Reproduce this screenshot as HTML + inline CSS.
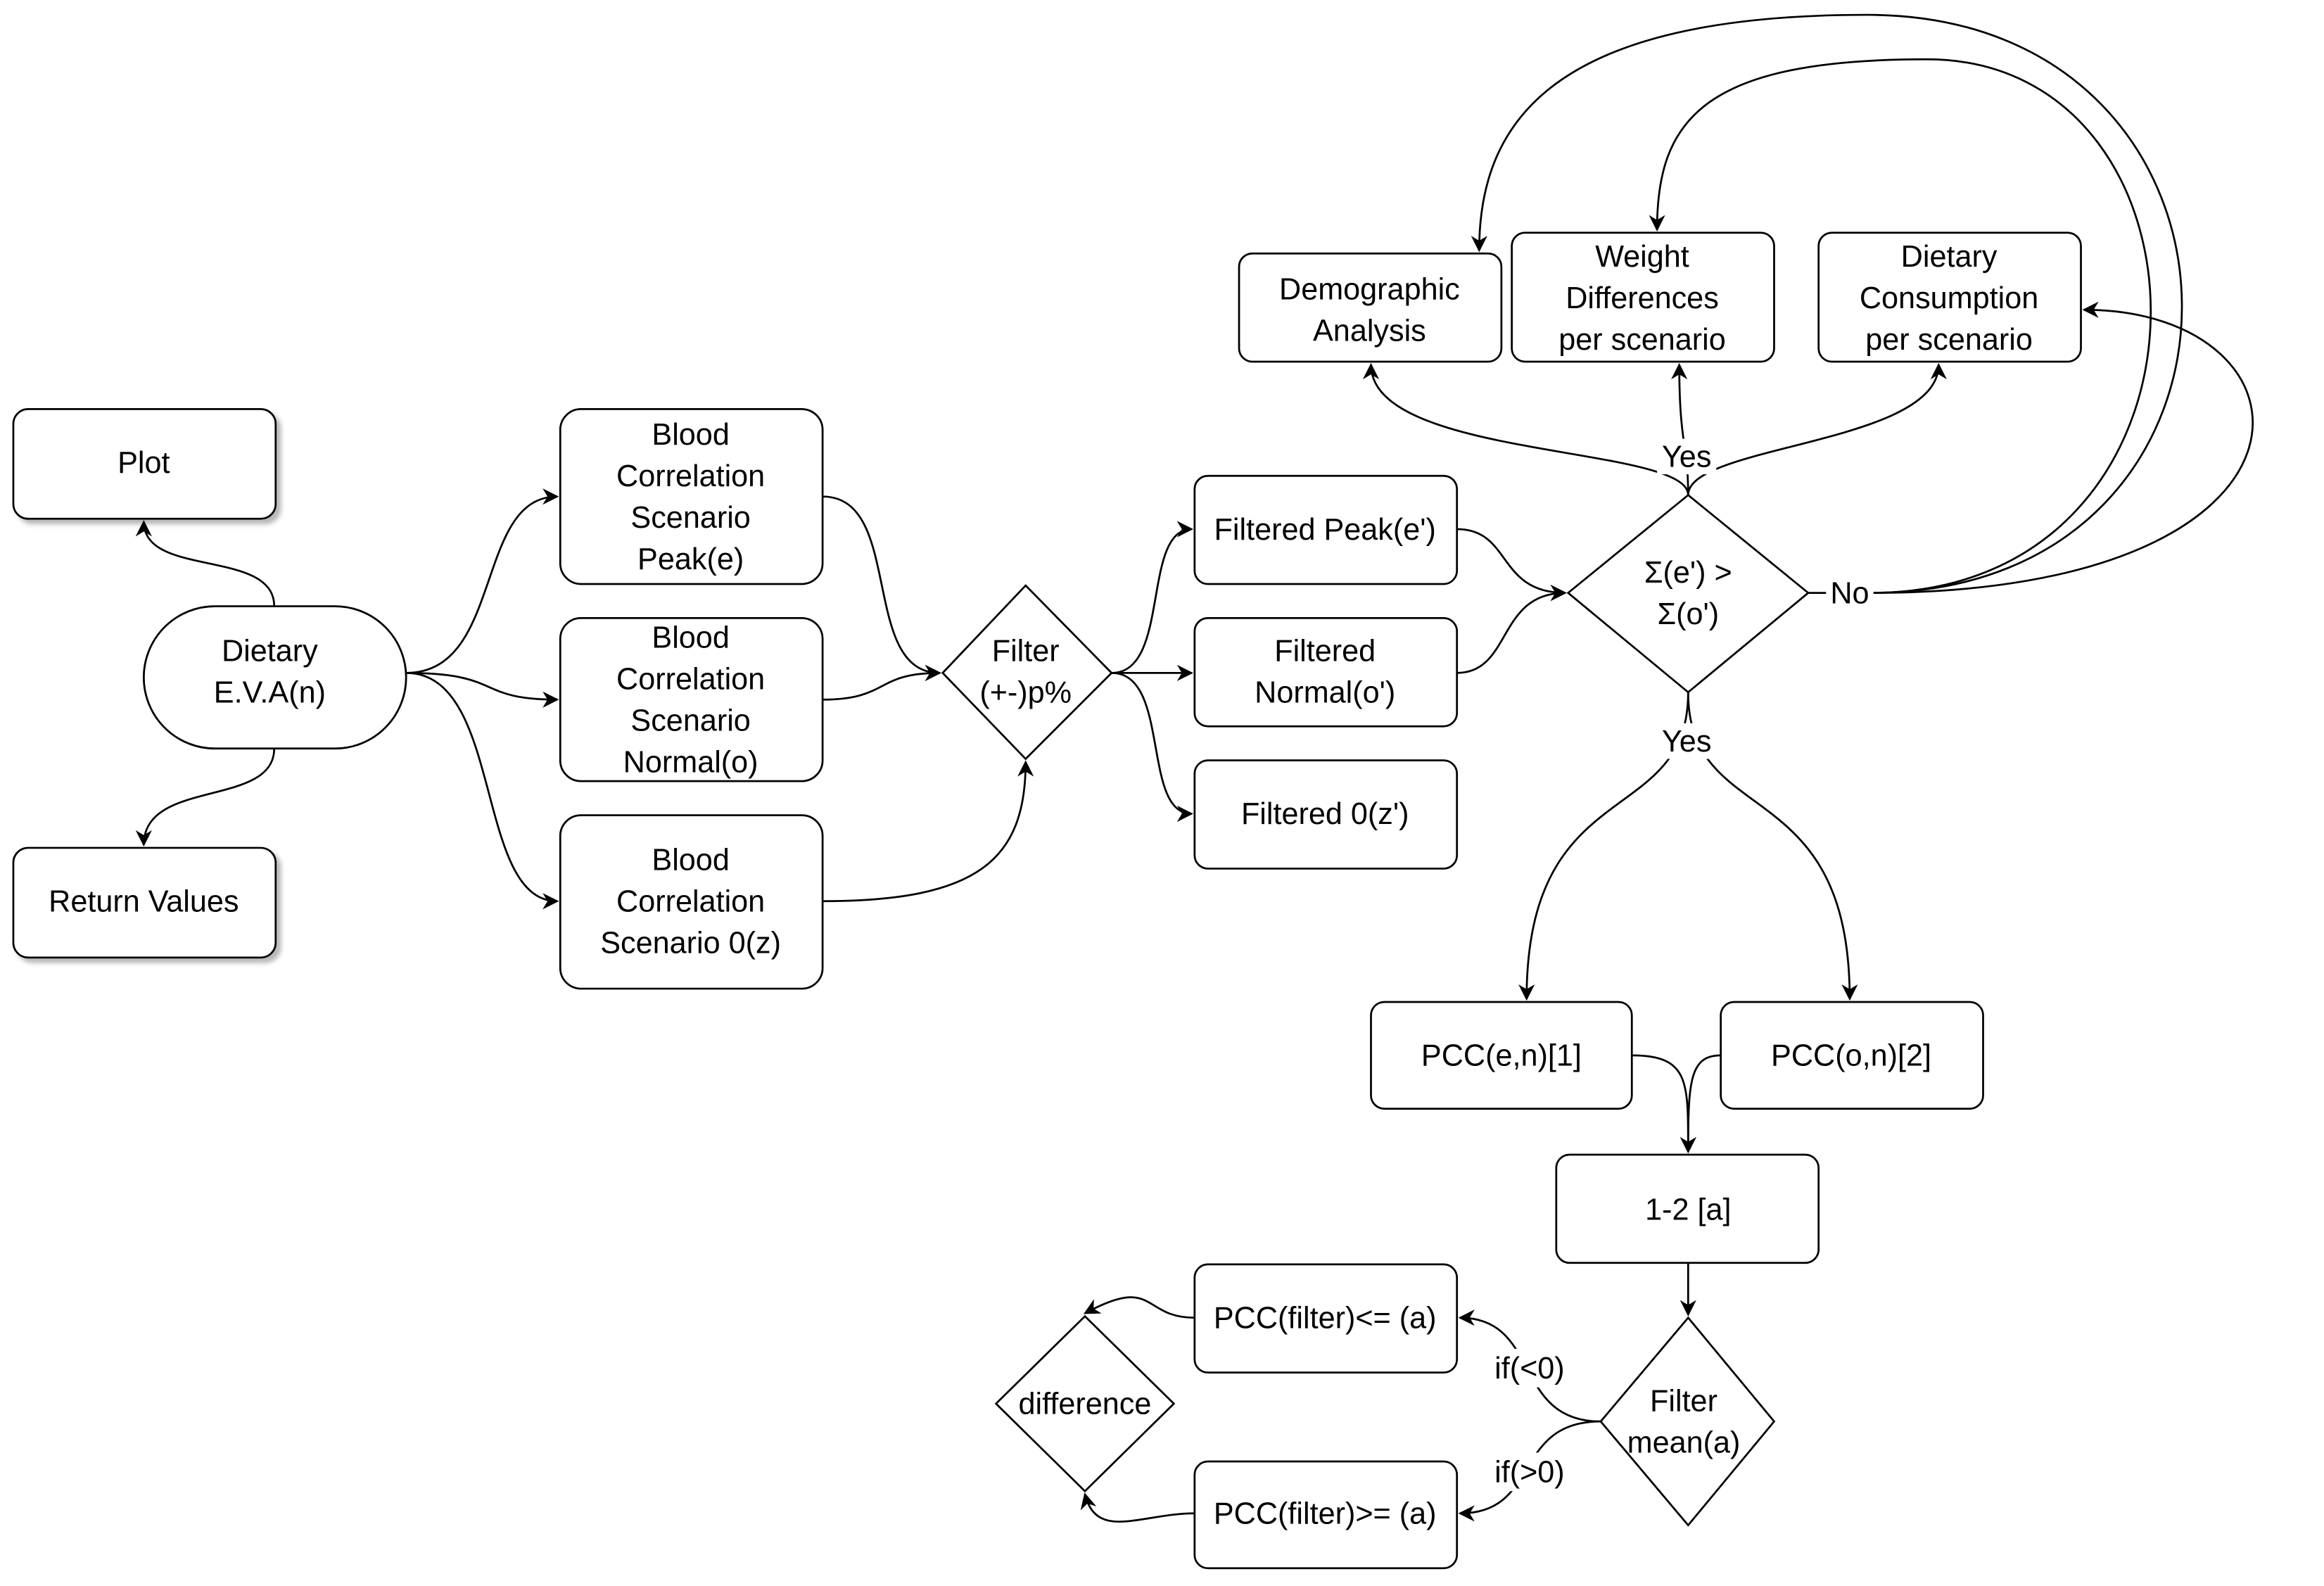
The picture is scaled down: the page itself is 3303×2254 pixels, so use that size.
<!DOCTYPE html>
<html><head><meta charset="utf-8"><style>html,body{margin:0;padding:0;background:#fff}svg{display:block}</style></head>
<body>
<svg width="3303" height="2254" viewBox="0 0 1568 1070" preserveAspectRatio="none" xmlns="http://www.w3.org/2000/svg" font-family="Liberation Sans, sans-serif" font-size="20.5">
<defs>
<marker id="a" viewBox="0 0 10 10" refX="9" refY="5" markerWidth="11" markerHeight="11" orient="auto-start-reverse" markerUnits="userSpaceOnUse"><path d="M0,0 L10,5 L0,10 L3,5 z" fill="#000"/></marker>
<filter id="sh" x="-10%" y="-10%" width="130%" height="130%"><feDropShadow dx="3" dy="3" stdDeviation="1.5" flood-color="#999" flood-opacity="0.7"/></filter>
</defs>
<g fill="#fff" stroke="#000" stroke-width="1.3">
<rect x="9" y="276" width="177" height="74" rx="10" filter="url(#sh)"/>
<rect x="9" y="572" width="177" height="74" rx="10" filter="url(#sh)"/>
<rect x="97" y="409" width="177" height="96" rx="48"/>
<rect x="378" y="276" width="177" height="118" rx="14"/>
<rect x="378" y="417" width="177" height="110" rx="14"/>
<rect x="378" y="550" width="177" height="117" rx="14"/>
<path d="M692,395 L750,454 L692,512 L636,454 Z"/>
<rect x="806" y="321" width="177" height="73" rx="9"/>
<rect x="806" y="417" width="177" height="73" rx="9"/>
<rect x="806" y="513" width="177" height="73" rx="9"/>
<path d="M1139,334 L1220,400 L1139,467 L1058,400 Z"/>
<rect x="836" y="171" width="177" height="73" rx="9"/>
<rect x="1020" y="157" width="177" height="87" rx="9"/>
<rect x="1227" y="157" width="177" height="87" rx="9"/>
<rect x="925" y="676" width="176" height="72" rx="9"/>
<rect x="1161" y="676" width="177" height="72" rx="9"/>
<rect x="1050" y="779" width="177" height="73" rx="9"/>
<path d="M1139,889 L1197,959 L1139,1029 L1080,959 Z"/>
<rect x="806" y="853" width="177" height="73" rx="9"/>
<rect x="806" y="986" width="177" height="72" rx="9"/>
<path d="M732,888 L792,947 L732,1006 L672,947 Z"/>
</g>
<g fill="none" stroke="#000" stroke-width="1.3" marker-end="url(#a)">
<path d="M185,409 C185,370 97,390 97,352"/>
<path d="M185,505 C185,545 97,525 97,570"/>
<path d="M274,454 C340,454 320,335 376,335"/>
<path d="M274,454 C340,454 320,472 376,472"/>
<path d="M274,454 C340,454 320,608 376,608"/>
<path d="M555,335 C610,335 580,454 634,454"/>
<path d="M555,472 C600,472 590,454 634,454"/>
<path d="M555,608 C660,608 692,580 692,514"/>
<path d="M750,454 C790,454 770,357 804,357"/>
<path d="M750,454 L804,454"/>
<path d="M750,454 C790,454 770,549 804,549"/>
<path d="M983,357 C1020,357 1010,400 1056,400"/>
<path d="M983,454 C1020,454 1010,400 1056,400"/>
<path d="M1139,334 C1139,300 925,310 925,246"/>
<path d="M1139,334 C1139,300 1133,300 1133,246"/>
<path d="M1139,334 C1139,300 1308,300 1308,246"/>
<path d="M1220,400 L1262,400 C1545,400 1540,10 1260,10 C1050,10 998,80 998,169"/>
<path d="M1262,400 C1510,400 1505,40 1300,40 C1150,40 1118,80 1118,155"/>
<path d="M1262,400 C1585,400 1570,209 1406,209"/>
<path d="M1139,467 C1139,560 1030,520 1030,674"/>
<path d="M1139,467 C1139,560 1248,520 1248,674"/>
<path d="M1101,712 C1140,712 1139,730 1139,777"/>
<path d="M1161,712 C1140,712 1139,730 1139,777"/>
<path d="M1139,852 L1139,887"/>
<path d="M1080,959 C1020,959 1040,889 985,889"/>
<path d="M1080,959 C1020,959 1040,1021 985,1021"/>
<path d="M806,889 C770,889 780,860 732,886"/>
<path d="M806,1021 C770,1021 740,1040 732,1008"/>
</g>
<g fill="#fff">
<rect x="1118" y="296" width="40" height="24"/>
<rect x="1118" y="488" width="40" height="24"/>
<rect x="1232" y="388" width="32" height="24"/>
<rect x="1004" y="910" width="56" height="26"/>
<rect x="1004" y="980" width="56" height="26"/>
</g>
<g text-anchor="middle" fill="#000">
<text x="97" y="319">Plot</text>
<text x="97" y="615">Return Values</text>
<text x="182" y="446">Dietary</text><text x="182" y="474">E.V.A(n)</text>
<text x="466" y="300">Blood</text><text x="466" y="328">Correlation</text><text x="466" y="356">Scenario</text><text x="466" y="384">Peak(e)</text>
<text x="466" y="437">Blood</text><text x="466" y="465">Correlation</text><text x="466" y="493">Scenario</text><text x="466" y="521">Normal(o)</text>
<text x="466" y="587">Blood</text><text x="466" y="615">Correlation</text><text x="466" y="643">Scenario 0(z)</text>
<text x="692" y="446">Filter</text><text x="692" y="474">(+-)p%</text>
<text x="894" y="364">Filtered Peak(e')</text>
<text x="894" y="446">Filtered</text><text x="894" y="474">Normal(o')</text>
<text x="894" y="556">Filtered 0(z')</text>
<text x="1139" y="393">Σ(e') &gt;</text><text x="1139" y="421">Σ(o')</text>
<text x="924" y="202">Demographic</text><text x="924" y="230">Analysis</text>
<text x="1108" y="180">Weight</text><text x="1108" y="208">Differences</text><text x="1108" y="236">per scenario</text>
<text x="1315" y="180">Dietary</text><text x="1315" y="208">Consumption</text><text x="1315" y="236">per scenario</text>
<text x="1138" y="315">Yes</text>
<text x="1138" y="507">Yes</text>
<text x="1248" y="407">No</text>
<text x="1013" y="719">PCC(e,n)[1]</text>
<text x="1249" y="719">PCC(o,n)[2]</text>
<text x="1139" y="823">1-2 [a]</text>
<text x="1136" y="952">Filter</text><text x="1136" y="980">mean(a)</text>
<text x="894" y="896">PCC(filter)&lt;= (a)</text>
<text x="894" y="1028">PCC(filter)&gt;= (a)</text>
<text x="732" y="954">difference</text>
<text x="1032" y="930">if(&lt;0)</text>
<text x="1032" y="1000">if(&gt;0)</text>
</g>
</svg>
</body></html>
